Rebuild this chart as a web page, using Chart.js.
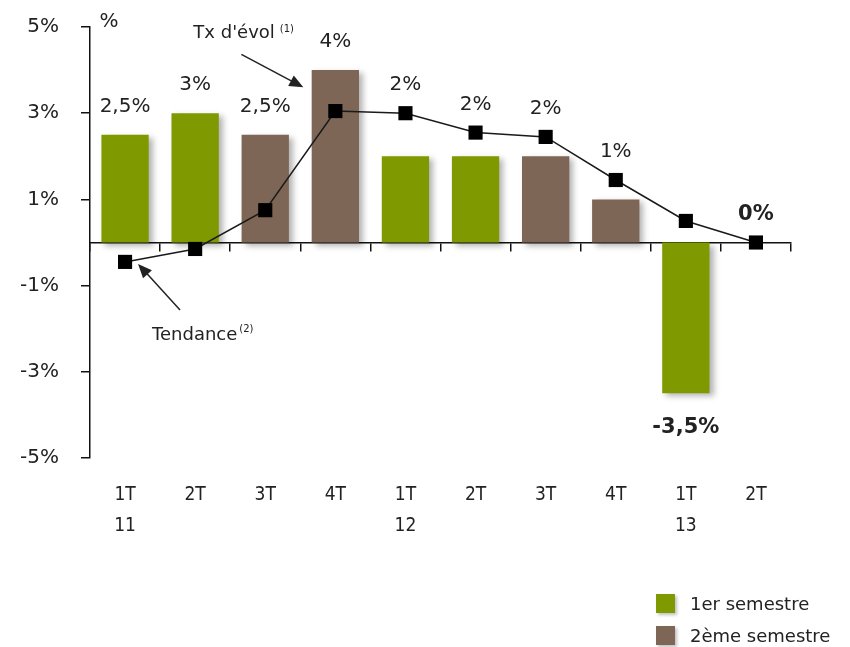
<!DOCTYPE html>
<html lang="fr">
<head>
<meta charset="utf-8">
<title>Tx d'évol et tendance</title>
<script src="https://cdn.jsdelivr.net/npm/chart.js@4/dist/chart.umd.min.js"></script>
<style>
  body { margin: 0; background: #fff; }
  #wrap { position: relative; width: 850px; height: 647px; }
  #legend { position: absolute; left: 656px; top: 587px; font: 18px "DejaVu Sans", sans-serif; color: #222; }
  #legend .row { display: flex; align-items: center; height: 32px; }
  #legend .box { width: 19px; height: 19px; margin-right: 15px; box-shadow: 2px 2px 3px rgba(0,0,0,0.25); }
</style>
</head>
<body>
<div id="wrap">
  <canvas id="chart" width="850" height="647"></canvas>
  <div id="legend"></div>
</div>
<script>
const quarters = ['1T', '2T', '3T', '4T', '1T', '2T', '3T', '4T', '1T', '2T'];
const years = ['11', '', '', '', '12', '', '', '', '13', ''];
const barValues = [2.5, 3, 2.5, 4, 2, 2, 2, 1, -3.5, 0];
const trendValues = [-0.45, -0.15, 0.75, 3.05, 3.0, 2.55, 2.45, 1.45, 0.5, 0];
const yTicks = [-5, -3, -1, 1, 3, 5];
const seriesNames = ['1er semestre', '2ème semestre'];

const green = '#7f9900';
const brown = '#7d6655';
const font = '"DejaVu Sans", sans-serif';

const frPct = v => String(v).replace('.', ',') + '%';
const isFirstHalf = q => q === '1T' || q === '2T';
const xLabels = quarters.map((q, i) => [q, years[i]]);

function arrow(ctx, x1, y1, x2, y2) {
  const a = Math.atan2(y2 - y1, x2 - x1);
  const c = Math.cos(a), s = Math.sin(a);
  ctx.beginPath();
  ctx.moveTo(x1, y1);
  ctx.lineTo(x2 - 10 * c, y2 - 10 * s);
  ctx.stroke();
  ctx.beginPath();
  ctx.moveTo(x2, y2);
  ctx.lineTo(x2 - 14 * c + 6 * s, y2 - 14 * s - 6 * c);
  ctx.lineTo(x2 - 14 * c - 6 * s, y2 - 14 * s + 6 * c);
  ctx.closePath();
  ctx.fill();
}

// ombre portée sous les barres
const barShadow = {
  id: 'barShadow',
  beforeDatasetDraw(chart, args) {
    if (args.meta.type !== 'bar') return;
    const ctx = chart.ctx;
    ctx.save();
    ctx.shadowColor = 'rgba(0,0,0,0.3)';
    ctx.shadowBlur = 6;
    ctx.shadowOffsetX = 4;
    ctx.shadowOffsetY = 3;
  },
  afterDatasetDraw(chart, args) {
    if (args.meta.type !== 'bar') return;
    chart.ctx.restore();
  }
};

const notes = {
  id: 'notes',
  afterDatasetsDraw(chart) {
    const { ctx, scales: { x, y } } = chart;
    const bars = chart.getDatasetMeta(0).data;
    const pts = chart.getDatasetMeta(1).data;
    ctx.save();
    ctx.fillStyle = '#222';
    ctx.textAlign = 'center';
    ctx.textBaseline = 'middle';

    barValues.forEach((v, i) => {
      const bold = i >= 8; // derniers trimestres en gras
      ctx.font = (bold ? 'bold 21px ' : '20px ') + font;
      let py;
      if (v < 0) py = y.getPixelForValue(v) + 34;
      else py = y.getPixelForValue(Math.max(v, trendValues[i])) - 28;
      ctx.fillText(frPct(v), bars[i].x, py);
    });

    // unité
    ctx.font = '20px ' + font;
    ctx.fillText('%', chart.chartArea.left + 19, chart.chartArea.top - 5);

    ctx.strokeStyle = '#222';
    ctx.lineWidth = 1.5;

    // Tx d'évol -> barre 4T 11
    const tx = x.getPixelForValue(3) - 32;
    const ty = y.getPixelForValue(3.6);
    arrow(ctx, tx - 62, ty - 33, tx, ty);
    ctx.textAlign = 'left';
    ctx.font = '18px ' + font;
    ctx.fillText("Tx d'évol", tx - 110, ty - 54);
    let w = ctx.measureText("Tx d'évol").width;
    ctx.font = '10px ' + font;
    ctx.fillText('(1)', tx - 110 + w + 5, ty - 58);

    // Tendance -> point 1T 11
    const p = pts[0];
    arrow(ctx, p.x + 55, p.y + 48, p.x + 13, p.y + 2);
    ctx.font = '18px ' + font;
    ctx.fillText('Tendance', p.x + 27, p.y + 73);
    w = ctx.measureText('Tendance').width;
    ctx.font = '10px ' + font;
    ctx.fillText('(2)', p.x + 29 + w, p.y + 68);
    ctx.restore();
  }
};

new Chart(document.getElementById('chart'), {
  data: {
    labels: xLabels,
    datasets: [
      {
        type: 'bar',
        label: "Tx d'évol",
        data: barValues,
        backgroundColor: quarters.map(q => isFirstHalf(q) ? green : brown),
        barPercentage: 0.75,
        categoryPercentage: 0.9,
        order: 2
      },
      {
        type: 'line',
        label: 'Tendance',
        data: trendValues,
        borderColor: '#1a1a1a',
        borderWidth: 1.5,
        backgroundColor: '#000',
        pointStyle: 'rect',
        pointRadius: 10,
        pointBorderWidth: 0,
        tension: 0,
        order: 1
      }
    ]
  },
  options: {
    responsive: false,
    animation: false,
    layout: { padding: { top: 27, right: 59, left: 0, bottom: 0 } },
    plugins: {
      legend: { display: false },
      tooltip: { enabled: false }
    },
    scales: {
      x: {
        position: 'bottom',
        offset: true,
        grid: { display: false, drawTicks: false },
        border: { display: false },
        ticks: {
          padding: 22,
          color: '#222',
          font: { family: '"Liberation Sans Narrow", "DejaVu Sans Condensed", sans-serif', size: 19, lineHeight: 1.6 }
        },
        afterFit(s) { s.height = 647 - 458; s.paddingLeft = 0; s.paddingRight = 0; }
      },
      x0: {
        type: 'category',
        labels: xLabels,
        position: { y: 0 },
        offset: true,
        grid: { display: true, drawOnChartArea: false, offset: true, tickLength: 8, color: '#111', lineWidth: 1.5 },
        border: { display: true, color: '#111', width: 1.5 },
        ticks: { display: false }
      },
      y: {
        min: -5,
        max: 5,
        afterBuildTicks(s) { s.ticks = yTicks.map(v => ({ value: v })); },
        afterFit(s) { s.width = 90; s.paddingTop = 0; s.paddingBottom = 0; },
        grid: { display: true, drawOnChartArea: false, tickLength: 9, color: '#111', lineWidth: 1.5 },
        border: { display: true, color: '#111', width: 1.5 },
        ticks: {
          padding: 22,
          color: '#222',
          font: { family: font, size: 20 },
          callback: v => v + '%'
        }
      }
    }
  },
  plugins: [barShadow, notes]
});

const legend = document.getElementById('legend');
[green, brown].forEach((c, i) => {
  const row = document.createElement('div');
  row.className = 'row';
  row.innerHTML = '<span class="box" style="background:' + c + '"></span><span>' + seriesNames[i] + '</span>';
  legend.appendChild(row);
});
</script>
</body>
</html>
